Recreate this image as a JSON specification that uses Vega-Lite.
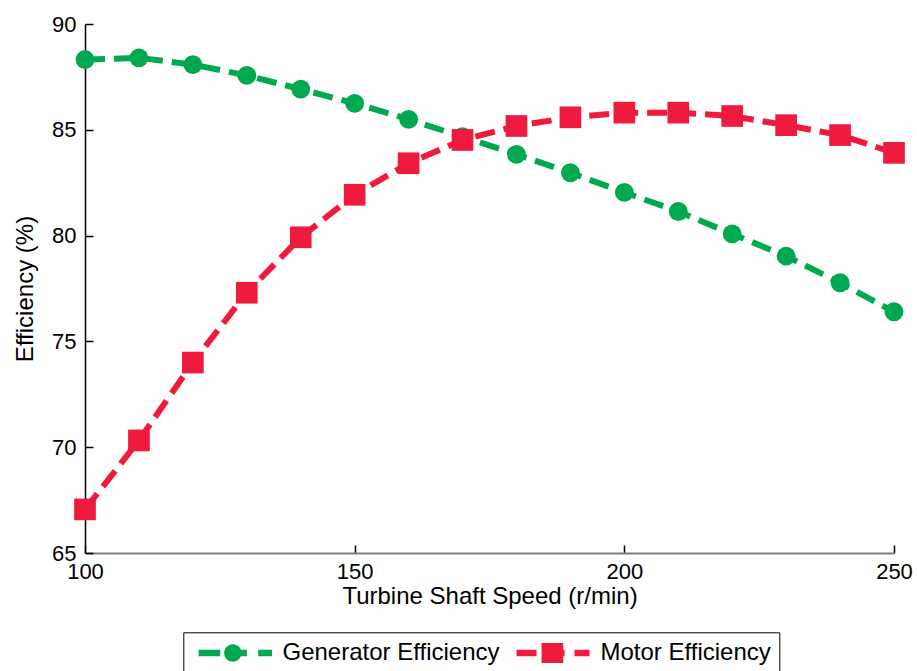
{
  "$schema": "https://vega.github.io/schema/vega-lite/v6.json",
  "width": 809,
  "height": 529,
  "autosize": {"type": "none"},
  "padding": {"left": 85, "top": 24, "right": 23, "bottom": 118},
  "background": "white",
  "config": {"view": {"stroke": null}, "font": "Liberation Sans"},
  "data": {
    "values": [
      {"speed": 100, "series": "Generator Efficiency", "eff": 88.32},
      {"speed": 110, "series": "Generator Efficiency", "eff": 88.40},
      {"speed": 120, "series": "Generator Efficiency", "eff": 88.08},
      {"speed": 130, "series": "Generator Efficiency", "eff": 87.57},
      {"speed": 140, "series": "Generator Efficiency", "eff": 86.92},
      {"speed": 150, "series": "Generator Efficiency", "eff": 86.25},
      {"speed": 160, "series": "Generator Efficiency", "eff": 85.49},
      {"speed": 170, "series": "Generator Efficiency", "eff": 84.67},
      {"speed": 180, "series": "Generator Efficiency", "eff": 83.84},
      {"speed": 190, "series": "Generator Efficiency", "eff": 82.97},
      {"speed": 200, "series": "Generator Efficiency", "eff": 82.04},
      {"speed": 210, "series": "Generator Efficiency", "eff": 81.14},
      {"speed": 220, "series": "Generator Efficiency", "eff": 80.08},
      {"speed": 230, "series": "Generator Efficiency", "eff": 79.03},
      {"speed": 240, "series": "Generator Efficiency", "eff": 77.77},
      {"speed": 250, "series": "Generator Efficiency", "eff": 76.40},
      {"speed": 100, "series": "Motor Efficiency", "eff": 67.06},
      {"speed": 110, "series": "Motor Efficiency", "eff": 70.32},
      {"speed": 120, "series": "Motor Efficiency", "eff": 74.00},
      {"speed": 130, "series": "Motor Efficiency", "eff": 77.30},
      {"speed": 140, "series": "Motor Efficiency", "eff": 79.92},
      {"speed": 150, "series": "Motor Efficiency", "eff": 81.93},
      {"speed": 160, "series": "Motor Efficiency", "eff": 83.42},
      {"speed": 170, "series": "Motor Efficiency", "eff": 84.52},
      {"speed": 180, "series": "Motor Efficiency", "eff": 85.18},
      {"speed": 190, "series": "Motor Efficiency", "eff": 85.59},
      {"speed": 200, "series": "Motor Efficiency", "eff": 85.81},
      {"speed": 210, "series": "Motor Efficiency", "eff": 85.81},
      {"speed": 220, "series": "Motor Efficiency", "eff": 85.65},
      {"speed": 230, "series": "Motor Efficiency", "eff": 85.22},
      {"speed": 240, "series": "Motor Efficiency", "eff": 84.75},
      {"speed": 250, "series": "Motor Efficiency", "eff": 83.91}
    ]
  },
  "encoding": {
    "x": {
      "field": "speed",
      "type": "quantitative",
      "scale": {"domain": [100, 250], "nice": false, "zero": false},
      "axis": {
        "values": [100, 150, 200, 250],
        "title": "Turbine Shaft Speed (r/min)",
        "grid": false,
        "tickSize": -8,
        "tickColor": "black",
        "tickWidth": 1.5,
        "domainColor": "#7f7f7f",
        "domainWidth": 2,
        "labelFontSize": 22,
        "labelColor": "black",
        "labelPadding": 16,
        "labelFlush": false,
        "labelOverlap": false,
        "titleFontSize": 24,
        "titleFontWeight": "normal",
        "titleColor": "black",
        "titleY": 50,
        "titleX": 404.5,
        "titleBaseline": "alphabetic",
        "titleAlign": "center"
      }
    },
    "y": {
      "field": "eff",
      "type": "quantitative",
      "scale": {"domain": [65, 90], "nice": false, "zero": false},
      "axis": {
        "values": [65, 70, 75, 80, 85, 90],
        "title": "Efficiency (%)",
        "grid": false,
        "tickSize": -8,
        "tickColor": "black",
        "tickWidth": 1.5,
        "domainColor": "black",
        "domainWidth": 1.5,
        "labelFontSize": 22,
        "labelColor": "black",
        "labelPadding": 17,
        "labelFlush": false,
        "labelOverlap": false,
        "titleFontSize": 24,
        "titleFontWeight": "normal",
        "titleColor": "black",
        "titleX": -53,
        "titleY": 264.5,
        "titleAngle": -90,
        "titleBaseline": "alphabetic",
        "titleAlign": "center"
      }
    },
    "color": {
      "field": "series",
      "type": "nominal",
      "scale": {"domain": ["Generator Efficiency", "Motor Efficiency"], "range": ["#00A950", "#EE1B3C"]},
      "legend": {
        "title": null,
        "orient": "none",
        "legendX": 98.3,
        "legendY": 608.3,
        "direction": "horizontal",
        "padding": 8,
        "strokeColor": "black",
        "fillColor": "white",
        "symbolSize": 600,
        "symbolStrokeWidth": 0,
        "symbolOpacity": 1,
        "labelFontSize": 24,
        "labelColor": "black",
        "labelOffset": 59.2,
        "labelLimit": 400,
        "symbolOffset": 7,
        "columnPadding": 9,
        "encode": {
          "symbols": {
            "update": {
              "shape": {
                "signal": "datum.value === 'Generator Efficiency' ? 'M-1,-0.27H0.77V0.27H-1Z M1.8,-0.27H2.95V0.27H1.8Z M3.87,-0.27H5V0.27H3.87Z M1.8,-0.71A0.71,0.71 0 1 1 1.8,0.71A0.71,0.71 0 1 1 1.8,-0.71Z' : 'M-1,-0.27H0.63V0.27H-1Z M1.04,-0.82H2.81V0.82H1.04Z M2.7,-0.27H2.92V0.27H2.7Z M3.73,-0.27H4.96V0.27H3.73Z'"
              },
              "fill": {"signal": "datum.value === 'Generator Efficiency' ? '#00A950' : '#EE1B3C'"},
              "strokeWidth": {"value": 0},
              "opacity": {"value": 1}
            }
          }
        }
      }
    }
  },
  "layer": [
    {
      "mark": {"type": "line", "strokeWidth": 6, "strokeDash": [20, 9]}
    },
    {
      "transform": [{"filter": "datum.series === 'Generator Efficiency'"}],
      "mark": {"type": "point", "shape": "circle", "size": 356, "filled": true, "opacity": 1, "strokeWidth": 0}
    },
    {
      "transform": [{"filter": "datum.series === 'Motor Efficiency'"}],
      "mark": {"type": "point", "shape": "square", "size": 470, "filled": true, "opacity": 1, "strokeWidth": 0}
    }
  ]
}
